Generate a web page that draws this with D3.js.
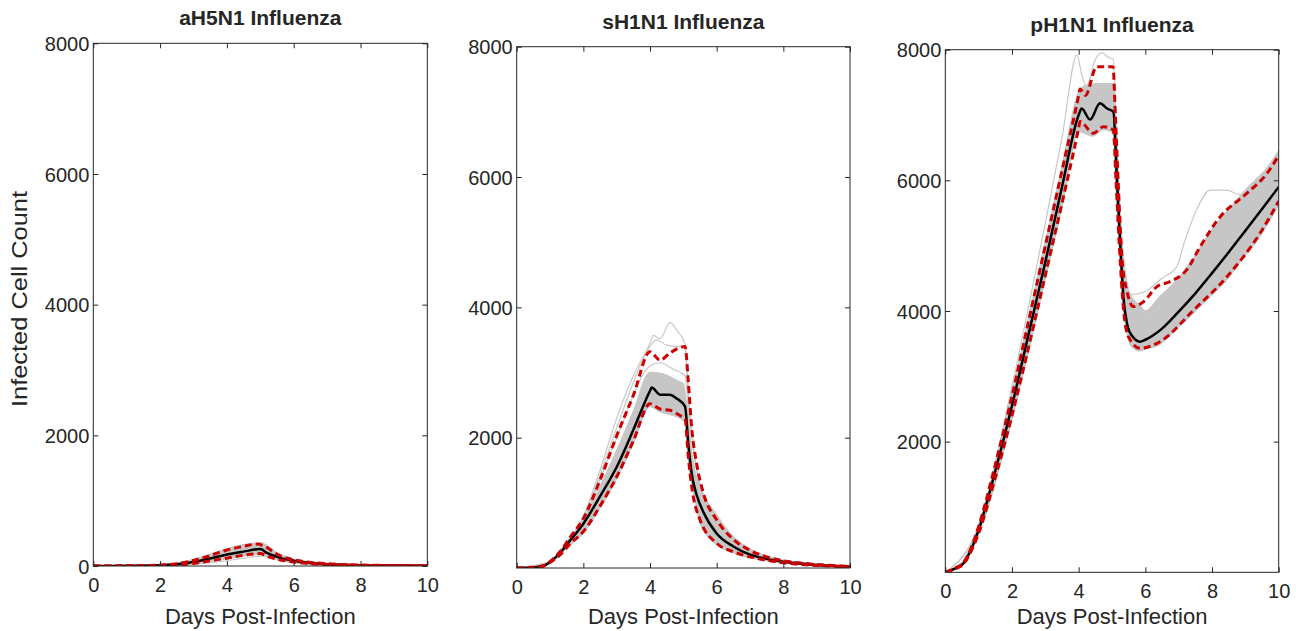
<!DOCTYPE html>
<html lang="en">
<head>
<meta charset="UTF-8">
<title>Infected Cell Count</title>
<script src="https://d3js.org/d3.v7.min.js"></script>
<style>
    body { margin: 0; background: #fff; font-family: "Liberation Sans", Arial, sans-serif; }
    .tick text { font-size: 20px; fill: #262626; }
    .title { font-size: 21px; font-weight: bold; fill: #262626; text-anchor: middle; }
    .label { font-size: 22px; fill: #262626; text-anchor: middle; }
</style>
</head>
<body>
<div id="chart"></div>
<script>
    // tick values
    const xTicks = [0, 2, 4, 6, 8, 10];
    const yTicksFirst = [0, 2000, 4000, 6000, 8000];
    const yTicksOther = [2000, 4000, 6000, 8000];
    const titles = ["aH5N1 Influenza", "sH1N1 Influenza", "pH1N1 Influenza"];

    // ---- aH5N1: [day, cells] ----
    const h5Mean = [[0,0],[1,2],[2,10],[2.5,25],[3,60],[3.5,115],[4,175],[4.5,220],[5,260],[5.2,200],[5.5,140],[6,80],[6.5,45],[7,28],[8,12],[9,6],[10,3]];
    const h5Upper = [[0,0],[1,3],[2,15],[2.5,35],[3,85],[3.5,160],[4,245],[4.5,300],[4.9,335],[5.1,310],[5.5,180],[6,95],[6.5,55],[7,35],[8,15],[9,8],[10,4]];
    const h5Lower = [[0,0],[1,1],[2,6],[2.5,15],[3,40],[3.5,80],[4,120],[4.5,165],[5,190],[5.2,150],[5.5,105],[6,62],[6.5,35],[7,22],[8,9],[9,4],[10,2]];
    const h5BandHi = [[0,0],[1,4],[2,18],[3,95],[3.5,180],[4,265],[4.5,325],[5,355],[5.5,200],[6,105],[7,40],[8,18],[10,5]];
    const h5BandLo = [[0,0],[1,0],[2,5],[3,35],[4,110],[4.5,155],[5,180],[5.5,95],[6,55],[7,18],[8,8],[10,1]];
    const h5Runs = [
        [[0,0],[2,4],[3,25],[4,80],[4.5,120],[5,150],[5.3,130],[5.6,85],[6,50],[7,20],[8,8],[10,1]]
    ];

    // ---- sH1N1 ----
    const s1Mean = [[0,0],[0.5,8],[0.8,30],[1,90],[1.3,230],[1.6,420],[2,680],[2.5,1100],[3,1550],[3.5,2120],[4,2720],[4.05,2770],[4.3,2660],[4.6,2660],[4.8,2600],[5.05,2480],[5.15,1900],[5.25,1450],[5.4,1120],[5.6,860],[6,530],[6.5,330],[7,205],[7.5,140],[8,95],[9,45],[10,20]];
    const s1Upper = [[0,0],[0.5,10],[0.8,35],[1,100],[1.3,250],[1.6,470],[2,760],[2.5,1350],[3,2030],[3.5,2650],[4,3320],[4.3,3190],[4.6,3300],[5.05,3400],[5.15,2850],[5.25,2150],[5.4,1600],[5.6,1150],[6,740],[6.5,440],[7,270],[7.5,170],[8,110],[9,55],[10,25]];
    const s1Lower = [[0,0],[0.5,6],[0.8,25],[1,85],[1.3,200],[1.6,370],[2,560],[2.5,950],[3,1400],[3.5,1950],[4,2520],[4.3,2440],[4.6,2420],[4.9,2340],[5.05,2290],[5.15,1700],[5.25,1250],[5.5,740],[6,380],[6.5,250],[7,170],[7.5,120],[8,80],[9,40],[10,18]];
    const s1BandHi = [[0,0],[0.5,10],[1,105],[1.5,400],[2,740],[2.5,1250],[3,1800],[3.5,2400],[4,3000],[4.3,2990],[5,2830],[5.1,2500],[5.25,1700],[5.5,1250],[6,800],[6.5,480],[7,290],[8,120],[9,60],[10,25]];
    const s1BandLo = [[0,0],[0.5,5],[1,80],[1.5,310],[2,540],[2.5,920],[3,1370],[3.5,1920],[4,2480],[4.3,2400],[4.9,2300],[5.05,2250],[5.2,1450],[5.5,700],[6,360],[6.5,235],[7,160],[8,75],[9,38],[10,16]];
    const s1Runs = [
        [[0,0],[1,100],[1.5,380],[2,800],[2.5,1500],[3,2300],[3.5,2950],[4,3450],[4.1,3570],[4.3,3520],[4.6,3770],[4.8,3650],[5.05,3440],[5.15,2600],[5.3,1800],[5.5,1300],[6,820],[6.5,480],[7,290],[8,120],[10,25]],
        [[0,0],[1,100],[2,780],[3,2150],[3.5,2850],[4,3400],[4.2,3500],[4.5,3420],[5.05,3380],[5.2,2400],[5.5,1250],[6,780],[7,280],[8,115],[10,25]],
        [[0,0],[1,100],[2,760],[3,2000],[4,3100],[4.3,3150],[4.7,3050],[5.05,2950],[5.2,2000],[5.5,1200],[6,760],[7,270],[8,115],[10,25]]
    ];

    // ---- pH1N1 ----
    const p1Mean = [[0,0],[0.3,60],[0.55,140],[0.8,380],[1,650],[1.5,1550],[2,2550],[2.5,3650],[3,4750],[3.5,5900],[4,7000],[4.09,7100],[4.34,6930],[4.64,7180],[4.85,7100],[5.04,7050],[5.15,6000],[5.25,5000],[5.35,4170],[5.45,3810],[5.6,3620],[5.84,3530],[6,3560],[6.5,3730],[7,3990],[7.5,4270],[8,4580],[8.5,4900],[9,5230],[9.5,5560],[10,5900]];
    const p1Upper = [[0,0],[0.3,65],[0.55,150],[0.8,400],[1,700],[1.5,1650],[2,2700],[2.5,3850],[3,5000],[3.5,6150],[4,7300],[4.04,7400],[4.2,7300],[4.54,7740],[5.03,7740],[5.1,7000],[5.2,5800],[5.3,4800],[5.45,4300],[5.64,4070],[5.94,4140],[6.34,4370],[6.74,4450],[7.24,4630],[7.64,4980],[8.24,5440],[9.04,5800],[9.64,6100],[10,6380]];
    const p1Lower = [[0,0],[0.3,55],[0.55,130],[0.8,350],[1,600],[1.5,1450],[2,2400],[2.5,3450],[3,4550],[3.5,5650],[4,6800],[4.04,6900],[4.44,6720],[4.74,6820],[5.04,6770],[5.12,6000],[5.22,5000],[5.35,4000],[5.5,3600],[5.84,3430],[6.44,3530],[7.44,4010],[8.44,4520],[9.44,5190],[10,5680]];
    const p1BandHi = [[0,0],[0.5,150],[1,720],[2,2750],[3,5050],[3.5,6200],[4,7350],[4.2,7450],[4.5,7480],[5.04,7480],[5.12,6800],[5.25,5300],[5.4,4450],[5.6,4200],[6,4000],[6.5,4250],[7,4500],[7.5,4850],[8,5250],[8.5,5550],[9,5850],[9.5,6100],[10,6450]];
    const p1BandLo = [[0,0],[0.5,120],[1,580],[2,2350],[3,4500],[3.5,5600],[4,6750],[4.44,6680],[4.74,6780],[5.04,6730],[5.12,5900],[5.25,4700],[5.4,3800],[5.6,3450],[5.84,3390],[6.44,3490],[7.44,3970],[8.44,4480],[9.44,5150],[10,5620]];
    const p1Runs = [
        [[0,0],[1,720],[2,2850],[3,5350],[3.5,6650],[3.95,7920],[4.1,7600],[4.3,7400],[4.6,7450],[5.04,7400],[5.15,6300],[5.3,4900],[5.5,4100],[5.8,3900],[6.5,4100],[7,4350],[8,5000],[9,5600],[10,6200]],
        [[0,0],[1,690],[2,2700],[3,4950],[3.5,6100],[4,7250],[4.3,7500],[4.5,7850],[4.7,7950],[4.9,7880],[5.04,7850],[5.12,7000],[5.25,5500],[5.4,4600],[5.6,4250],[6,4300],[6.5,4500],[6.94,4680],[7.2,5100],[7.54,5550],[7.94,5850],[8.44,5850],[8.84,5780],[9.2,5950],[9.6,6150],[10,6400]]
    ];

    const panels = [
        { title: titles[0], mean: h5Mean, upper: h5Upper, lower: h5Lower, hi: h5BandHi, lo: h5BandLo, runs: h5Runs, yTicks: yTicksFirst,
          box: { left: 93.3, right: 427.3, top: 43.3, bottom: 566 } },
        { title: titles[1], mean: s1Mean, upper: s1Upper, lower: s1Lower, hi: s1BandHi, lo: s1BandLo, runs: s1Runs, yTicks: yTicksOther,
          box: { left: 516.7, right: 850, top: 46.7, bottom: 568 } },
        { title: titles[2], mean: p1Mean, upper: p1Upper, lower: p1Lower, hi: p1BandHi, lo: p1BandLo, runs: p1Runs, yTicks: yTicksOther,
          box: { left: 945.3, right: 1278.7, top: 49.7, bottom: 572.3 } }
    ];

    const svg = d3.select("#chart").append("svg")
        .attr("width", 1296)
        .attr("height", 631);

    const fmt = d3.format("d");

    panels.forEach((p, i) => {
        const b = p.box;
        const x = d3.scaleLinear().domain([0, 10]).range([b.left, b.right]);
        const y = d3.scaleLinear().domain([0, 8000]).range([b.bottom, b.top]);
        const g = svg.append("g");

        g.append("clipPath").attr("id", "clip" + i)
            .append("rect")
            .attr("x", b.left).attr("y", b.top)
            .attr("width", b.right - b.left).attr("height", b.bottom - b.top);

        const plot = g.append("g").attr("clip-path", `url(#clip${i})`);

        // grey band: spread of the stochastic runs
        const hiF = d3.scaleLinear().domain(p.hi.map(d => d[0])).range(p.hi.map(d => d[1]));
        const loF = d3.scaleLinear().domain(p.lo.map(d => d[0])).range(p.lo.map(d => d[1]));
        const days = Array.from(new Set(p.hi.map(d => d[0]).concat(p.lo.map(d => d[0])))).sort((a, b) => a - b);
        const area = d3.area()
            .x(d => x(d))
            .y0(d => y(loF(d)))
            .y1(d => y(hiF(d)))
            .curve(d3.curveMonotoneX);
        plot.append("path")
            .datum(days)
            .attr("fill", "#c6c6c6")
            .attr("stroke", "#c6c6c6")
            .attr("stroke-width", 1.5)
            .attr("d", area);

        const line = d3.line().x(d => x(d[0])).y(d => y(d[1])).curve(d3.curveMonotoneX);

        p.runs.forEach(r => {
            plot.append("path")
                .datum(r)
                .attr("fill", "none")
                .attr("stroke", "#c8c8c8")
                .attr("stroke-width", 1.2)
                .attr("d", line);
        });

        plot.append("path")
            .datum(p.mean)
            .attr("fill", "none")
            .attr("stroke", "#000")
            .attr("stroke-width", 2.5)
            .attr("stroke-linejoin", "round")
            .attr("d", line);

        [p.upper, p.lower].forEach(s => {
            plot.append("path")
                .datum(s)
                .attr("fill", "none")
                .attr("stroke", "#cc0000")
                .attr("stroke-width", 3)
                .attr("stroke-dasharray", "7,4")
                .attr("d", line);
        });

        // axes, ticks pointing inward
        const bottomAxis = g.append("g")
            .attr("transform", `translate(0,${b.bottom})`)
            .call(d3.axisBottom(x).tickValues(xTicks).tickSizeInner(-5).tickSizeOuter(0));
        bottomAxis.selectAll("text").attr("y", 25.5).attr("dy", null);

        g.append("g")
            .attr("transform", `translate(0,${b.top})`)
            .call(d3.axisTop(x).tickValues(xTicks).tickSizeInner(-5).tickSizeOuter(0).tickFormat(""));

        const leftAxis = g.append("g")
            .attr("transform", `translate(${b.left},0)`)
            .call(d3.axisLeft(y).tickValues(p.yTicks).tickFormat(fmt).tickSizeInner(-5).tickSizeOuter(0));
        leftAxis.selectAll("text").attr("x", -4).attr("dy", "0.36em");

        g.append("g")
            .attr("transform", `translate(${b.right},0)`)
            .call(d3.axisRight(y).tickValues(p.yTicks).tickSizeInner(-5).tickSizeOuter(0).tickFormat(""));

        g.selectAll(".domain").remove();
        g.selectAll(".tick line").attr("stroke", "#262626");

        g.append("rect")
            .attr("x", b.left).attr("y", b.top)
            .attr("width", b.right - b.left).attr("height", b.bottom - b.top)
            .attr("fill", "none")
            .attr("stroke", "#262626")
            .attr("stroke-width", 1);

        g.selectAll(".tick text").attr("font-family", null).attr("font-size", null);

        g.append("text")
            .attr("class", "title")
            .attr("x", (b.left + b.right) / 2)
            .attr("y", b.top - 18)
            .text(p.title);

        g.append("text")
            .attr("class", "label")
            .attr("x", (b.left + b.right) / 2)
            .attr("y", 623.5)
            .text("Days Post-Infection");
    });

    svg.append("text")
        .attr("class", "label")
        .attr("transform", "translate(27,299) rotate(-90)")
        .attr("textLength", 216)
        .attr("lengthAdjust", "spacingAndGlyphs")
        .text("Infected Cell Count");
</script>
</body>
</html>
